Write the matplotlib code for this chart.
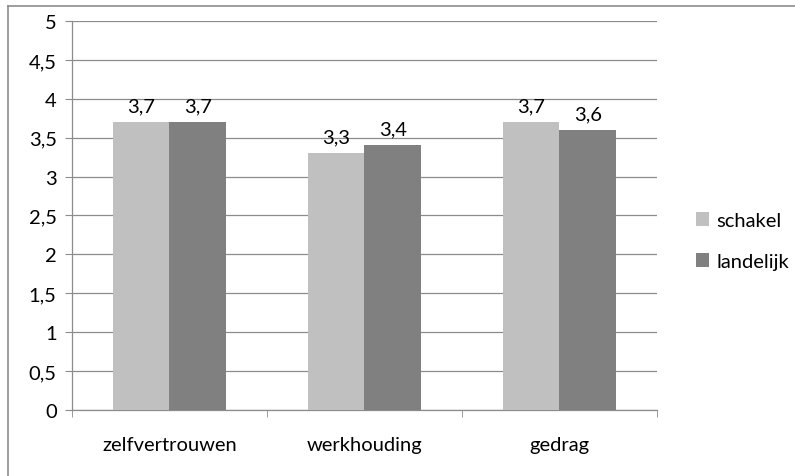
import matplotlib
matplotlib.use("Agg")
import matplotlib.pyplot as plt
import numpy as np
from matplotlib.lines import Line2D

categories = ["zelfvertrouwen", "werkhouding", "gedrag"]
schakel = [3.7, 3.3, 3.7]
landelijk = [3.7, 3.4, 3.6]
yticks = [0, 0.5, 1, 1.5, 2, 2.5, 3, 3.5, 4, 4.5, 5]
ytick_labels = ["0", "0,5", "1", "1,5", "2", "2,5", "3", "3,5", "4", "4,5", "5"]

plt.rcParams['font.family'] = ['Lato', 'DejaVu Sans']
FS = 14.5

W, H = 795, 477
fig = plt.figure(figsize=(W/100, H/100), dpi=100)
ax = fig.add_axes([72/W, 1-411/H, (657-72)/W, (411-22)/H])

x = np.arange(len(categories))
bw = 0.29
c1, c2 = "#c0c0c0", "#808080"
b1 = ax.bar(x - bw/2, schakel, bw, color=c1, label="schakel", zorder=3)
b2 = ax.bar(x + bw/2, landelijk, bw, color=c2, label="landelijk", zorder=3)

for bars, vals in ((b1, schakel), (b2, landelijk)):
    for r, v in zip(bars, vals):
        ax.text(r.get_x() + r.get_width()/2, v + 0.1, f"{v:.1f}".replace(".", ","),
                ha="center", va="bottom", fontsize=FS, color="#000000")

ax.set_xlim(-0.5, len(categories) - 0.5)
ax.set_ylim(0, 5)
ax.set_yticks(yticks)
ax.set_yticklabels(ytick_labels, fontsize=FS)
ax.yaxis.grid(True, color="#8c8c8c", linewidth=0.9, zorder=0)
ax.set_axisbelow(True)

ax.set_xticks(x)
ax.set_xticklabels(categories, fontsize=FS)
ax.set_xticks(np.arange(len(categories) + 1) - 0.5, minor=True)
ax.tick_params(axis="x", which="major", length=0, pad=19)
ax.tick_params(axis="x", which="minor", length=5, color="#8c8c8c", direction="out")
ax.tick_params(axis="y", length=5, color="#8c8c8c", direction="out", pad=6)

for s in ("top", "right"):
    ax.spines[s].set_visible(False)
for s in ("left", "bottom"):
    ax.spines[s].set_color("#8c8c8c")
    ax.spines[s].set_linewidth(0.9)

leg = fig.legend(handles=[b1, b2], labels=["schakel", "landelijk"],
                 loc="center left", bbox_to_anchor=(696/W, 1-242/H),
                 frameon=False, fontsize=FS, handlelength=0.65, handleheight=0.65,
                 handletextpad=0.35, labelspacing=1.2, borderpad=0, borderaxespad=0)

fig.add_artist(Line2D([7.5/W, 7.5/W], [0, 1-6.5/H], transform=fig.transFigure,
                      color="#8c8c8c", linewidth=1.2))
fig.add_artist(Line2D([7.5/W, 1], [1-6.5/H, 1-6.5/H], transform=fig.transFigure,
                      color="#8c8c8c", linewidth=1.2))

fig.savefig("out.png", dpi=100)
